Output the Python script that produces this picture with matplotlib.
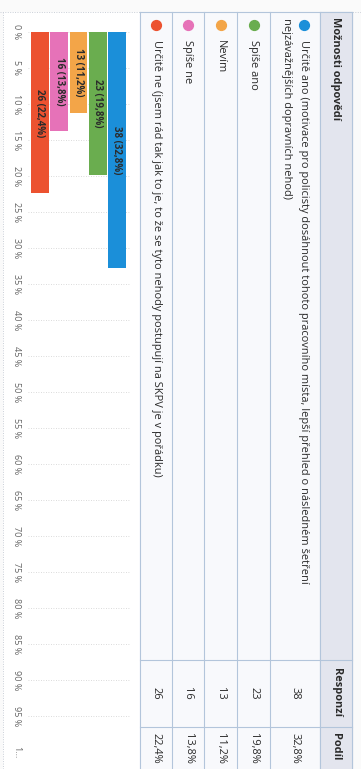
import matplotlib
matplotlib.use('Agg')
import matplotlib.pyplot as plt
from matplotlib.patches import Rectangle
import numpy as np

plt.rcParams['font.family'] = ['Open Sans', 'DejaVu Sans']

# survey answers (table order) and their results
headers = ['Možnosti odpovědí', 'Responzí', 'Podíl']
option_lines = [
    ['Určitě ano (motivace pro policisty dosáhnout tohoto pracovního místa, lepší přehled o následném šetření',
     'nejzávažnějších dopravních nehod)'],
    ['Spíše ano'],
    ['Nevím'],
    ['Spíše ne'],
    ['Určitě ne (jsem rád tak jak to je, to že se tyto nehody postupují na SKPV je v pořádku)'],
]
counts = [38, 23, 13, 16, 26]
shares = [32.8, 19.8, 11.2, 13.8, 22.4]
colors = ['#1b8fd9', '#6aad4f', '#f3a548', '#e672b8', '#ec5230']
pct_ticks = list(range(0, 101, 5))
pct_labels = [f'{t} %' for t in pct_ticks[:-1]] + ['1...']


def cz(v):
    return f'{v:.1f}'.replace('.', ',')


W, H = 361, 769
fig = plt.figure(figsize=(W / 100, H / 100), dpi=100, facecolor='#fafafa')

# page layer in pixel units (y grows downward), everything reads top to bottom
page = fig.add_axes([0, 0, 1, 1])
page.set_xlim(0, W)
page.set_ylim(H, 0)
page.axis('off')

line_c = '#b3c5db'
page.add_patch(Rectangle((3, 12), 137, H, color='white', zorder=0))
page.add_patch(Rectangle((140, 12), 180, H, color='#f8f9fc', zorder=0))
page.add_patch(Rectangle((320, 12), 32, H, color='#e3e5ee', zorder=0))
page.plot([0, W], [12, 12], color='#c9ced6', lw=0.7, ls=(0, (1, 1.5)))
page.plot([2.5, 2.5], [12, H], color='#c9ced6', lw=0.7, ls=(0, (1, 1.5)))

row_edges = [352, 320, 270, 237, 204, 172, 140]
for x in row_edges:
    page.plot([x, x], [12, H], color=line_c, lw=0.8)
for y in [12, 660, 727]:
    page.plot([140, 352], [y, y], color=line_c, lw=0.8)

txt = dict(rotation=270, color='#2a2a2a', fontsize=7.9)
page.text(336, 17, headers[0], ha='center', va='top', fontweight='bold', **txt)
page.text(336, 668, headers[1], ha='center', va='top', fontweight='bold', **txt)
page.text(336, 733, headers[2], ha='center', va='top', fontweight='bold', **txt)

for i, lines in enumerate(option_lines):
    xc = (row_edges[i + 1] + row_edges[i + 2]) / 2
    top = xc + 8.5 * (len(lines) - 1)
    page.scatter([top], [25], s=50, color=colors[i], zorder=3)
    for k, line in enumerate(lines):
        page.text(top - 17 * k, 40 if k == 0 else 18, line, ha='center', va='top', **txt)
    page.text(xc, 693, str(counts[i]), ha='center', va='center', **txt)
    page.text(xc, 733, cz(shares[i]) + '%', ha='center', va='top', **txt)

# bar chart: bars hang down from the 0 % line
ax = fig.add_axes([28 / W, 1 - 752 / H, 102 / W, 720 / H])
ax.set_facecolor('none')
x = np.arange(len(counts))
ax.bar(x, shares, width=0.93, color=colors, zorder=2)
for xi, c, s in zip(x, counts, shares):
    ax.text(xi, s / 2, f'{c} ({cz(s)}%)', rotation=270, ha='center', va='center',
            fontsize=7, fontweight='bold', color='#2b2b2b', zorder=3)
ax.set_ylim(100, 0)
ax.set_xlim(4.62, -0.675)
ax.set_xticks([])
ax.set_yticks(pct_ticks)
ax.set_yticklabels(pct_labels, rotation=270, fontsize=6.5, color='#666666', va='center')
ax.tick_params(axis='y', length=0, pad=5)
ax.yaxis.grid(True, color='#cfcfcf', lw=0.6, ls=(0, (1, 2)), zorder=0)
for sp in ax.spines.values():
    sp.set_visible(False)

fig.savefig('out.png', dpi=100, facecolor=fig.get_facecolor())
